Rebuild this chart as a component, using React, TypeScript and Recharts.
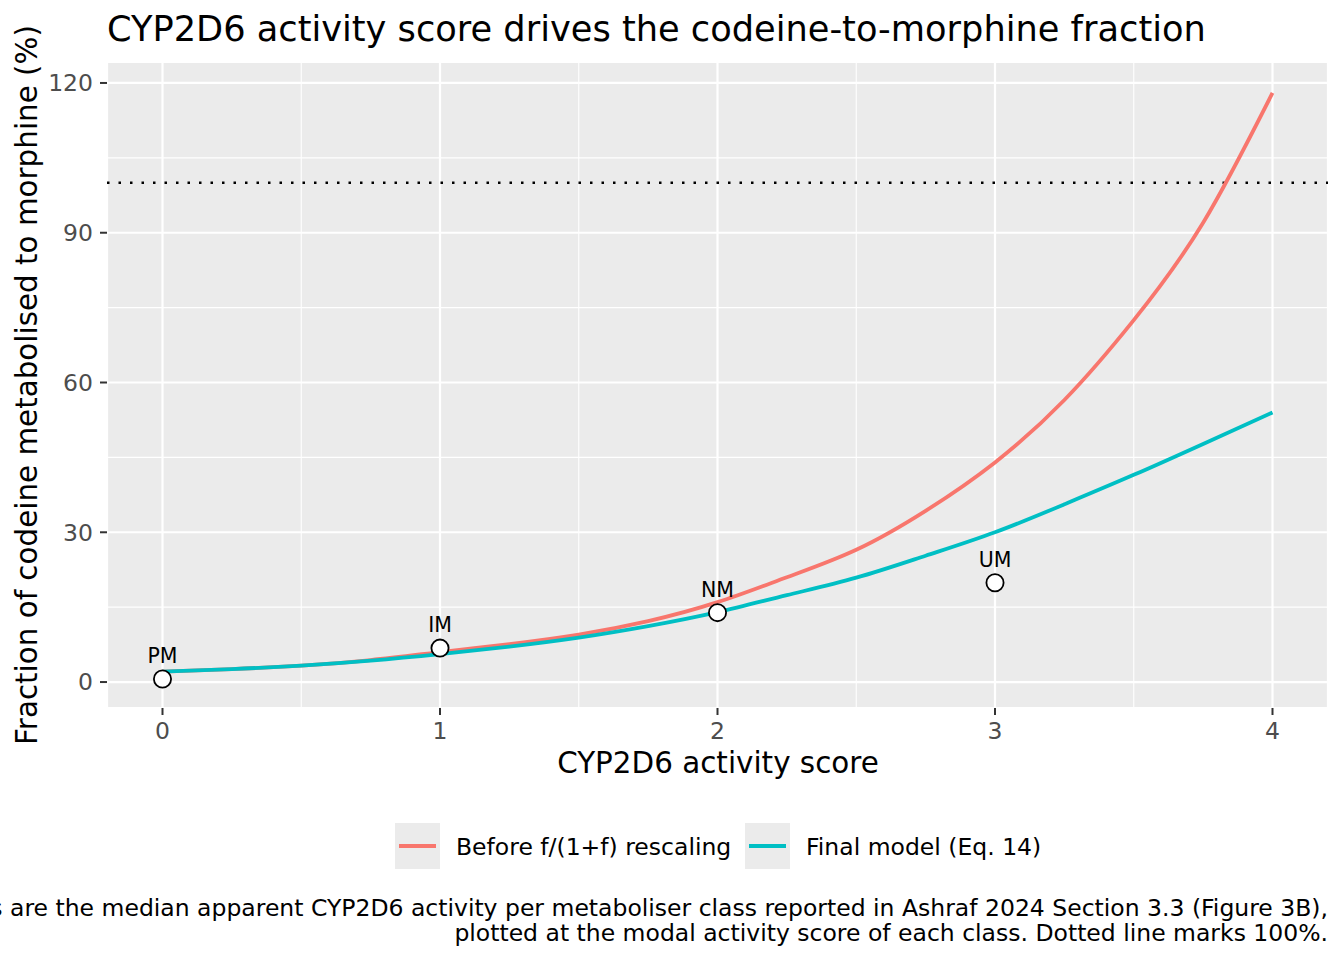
import {
  ComposedChart,
  Line,
  Scatter,
  XAxis,
  YAxis,
  CartesianGrid,
  ReferenceLine,
  LabelList,
} from "recharts";

const FONT = "'DejaVu Sans', Verdana, sans-serif";
const RED = "#F8766D";
const TEAL = "#00BFC4";

// activity score grid the curves were read at
const activityScores = [0, 0.25, 0.5, 0.75, 1, 1.25, 1.5, 1.75, 2, 2.25, 2.5, 2.75, 3, 3.25, 3.5, 3.75, 4];
const beforeRescaling = [2.1, 2.6, 3.3, 4.4, 6.0, 7.6, 9.5, 12.2, 16.0, 21.0, 26.5, 34.3, 44.0, 56.5, 72.5, 92.0, 118.0];
const finalModel = [2.1, 2.6, 3.3, 4.3, 5.6, 7.1, 8.9, 11.2, 14.0, 17.4, 20.9, 25.3, 30.0, 35.6, 41.5, 47.7, 54.0];

// observed medians per metaboliser class
const classLabels = ["PM", "IM", "NM", "UM"];
const classScores = [0, 1, 2, 3];
const classActivity = [0.6, 6.8, 13.9, 19.9];

const xTicks = [0, 1, 2, 3, 4];
const xMinor = [0.5, 1.5, 2.5, 3.5];
const yTicks = [0, 30, 60, 90, 120];
const yMinor = [15, 45, 75, 105];

const seriesNames = ["Before f/(1+f) rescaling", "Final model (Eq. 14)"];

const captionLines = [
  "Points are the median apparent CYP2D6 activity per metaboliser class reported in Ashraf 2024 Section 3.3 (Figure 3B),",
  "plotted at the modal activity score of each class. Dotted line marks 100%.",
];

const beforeData = activityScores.map((x, i) => ({ x, y: beforeRescaling[i] }));
const finalData = activityScores.map((x, i) => ({ x, y: finalModel[i] }));
const classData = classScores.map((x, i) => ({ x, y: classActivity[i], label: classLabels[i] }));

function PointLabel(props: any) {
  const { x, y, width, height, value } = props;
  const cx = x + (width || 0) / 2;
  const cy = y + (height || 0) / 2;
  return (
    <text x={cx} y={cy - 16} textAnchor="middle" fontFamily={FONT} fontSize={20.5} fill="#000">
      {value}
    </text>
  );
}

export default function App() {
  return (
    <div style={{ position: "absolute", left: 0, top: 0, width: 1344, height: 960, background: "#fff", overflow: "hidden" }}>
      <ComposedChart width={1344} height={960} margin={{ top: 62, right: 16, left: 0, bottom: 192 }}>
        <CartesianGrid fill="#EBEBEB" stroke="#FFFFFF" strokeWidth={2.2} />
        <XAxis
          dataKey="x"
          type="number"
          domain={[-0.2, 4.2]}
          ticks={xTicks}
          height={60}
          axisLine={false}
          tickSize={7}
          tickMargin={7}
          tickLine={{ stroke: "#333333", strokeWidth: 2 }}
          tick={{ fill: "#4D4D4D", fontSize: 23.5, fontFamily: FONT }}
          allowDataOverflow
        />
        <YAxis
          type="number"
          domain={[-5.2, 124.2]}
          ticks={yTicks}
          width={107}
          axisLine={false}
          tickSize={7}
          tickMargin={7}
          tickLine={{ stroke: "#333333", strokeWidth: 2 }}
          tick={{ fill: "#4D4D4D", fontSize: 23.5, fontFamily: FONT }}
          allowDataOverflow
        />
        {xMinor.map((v) => (
          <ReferenceLine key={`xm${v}`} x={v} stroke="#FFFFFF" strokeWidth={1.1} />
        ))}
        {yMinor.map((v) => (
          <ReferenceLine key={`ym${v}`} y={v} stroke="#FFFFFF" strokeWidth={1.1} />
        ))}
        <ReferenceLine y={100} stroke="#000000" strokeWidth={2.5} strokeDasharray="2.5 9" />
        <Line
          data={beforeData}
          dataKey="y"
          type="natural"
          stroke={RED}
          strokeWidth={3.8}
          dot={false}
          isAnimationActive={false}
        />
        <Line
          data={finalData}
          dataKey="y"
          type="natural"
          stroke={TEAL}
          strokeWidth={3.8}
          dot={false}
          isAnimationActive={false}
        />
        <Scatter
          data={classData}
          dataKey="y"
          isAnimationActive={false}
          shape={(p: any) => <circle cx={p.cx} cy={p.cy} r={8.6} fill="#FFFFFF" stroke="#000000" strokeWidth={1.8} />}
        >
          <LabelList dataKey="label" content={<PointLabel />} />
        </Scatter>
      </ComposedChart>

      <svg width={1344} height={960} style={{ position: "absolute", left: 0, top: 0, pointerEvents: "none" }}>
        <text x={107} y={41} fontFamily={FONT} fontSize={35.2} fill="#000">
          CYP2D6 activity score drives the codeine-to-morphine fraction
        </text>
        <text x={718} y={773} textAnchor="middle" fontFamily={FONT} fontSize={29.4} fill="#000">
          CYP2D6 activity score
        </text>
        <text
          transform="translate(37,385) rotate(-90)"
          textAnchor="middle"
          fontFamily={FONT}
          fontSize={29.4}
          fill="#000"
        >
          Fraction of codeine metabolised to morphine (%)
        </text>

        {/* legend */}
        <rect x={395} y={823} width={45} height={46} fill="#EBEBEB" />
        <line x1={399} x2={436} y1={846} y2={846} stroke={RED} strokeWidth={3.8} />
        <text x={456} y={854.5} fontFamily={FONT} fontSize={23.5} fill="#000">
          {seriesNames[0]}
        </text>
        <rect x={745} y={823} width={45} height={46} fill="#EBEBEB" />
        <line x1={749} x2={786} y1={846} y2={846} stroke={TEAL} strokeWidth={3.8} />
        <text x={806} y={854.5} fontFamily={FONT} fontSize={23.5} fill="#000">
          {seriesNames[1]}
        </text>

        {captionLines.map((line, i) => (
          <text key={i} x={1328} y={916 + i * 25} textAnchor="end" fontFamily={FONT} fontSize={23.5} fill="#000">
            {line}
          </text>
        ))}
      </svg>
    </div>
  );
}
